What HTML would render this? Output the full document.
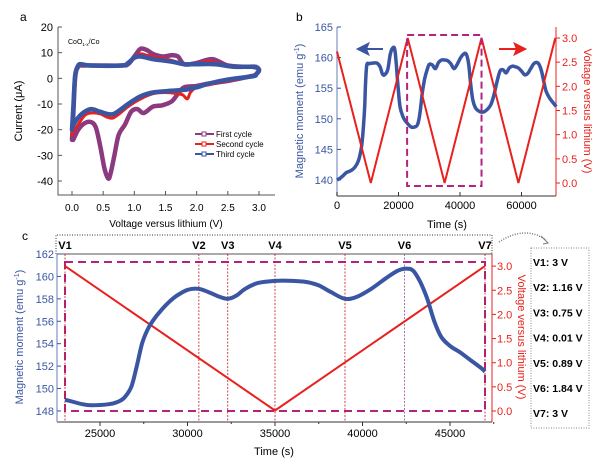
<!DOCTYPE html>
<html><head><meta charset="utf-8"><style>
body{margin:0;background:#fff;}
svg{display:block;font-family:"Liberation Sans",sans-serif;}
</style></head><body>
<svg id="fig" width="600" height="462" viewBox="0 0 600 462"></svg>
<script>
// ---------- Panel a data ----------
const cv1V = [0.0,0.02,0.05,0.1,0.2,0.4,0.8,0.9,1.0,1.1,1.2,1.3,1.45,1.6,1.7,1.8,2.0,2.25,2.5,2.8,2.95,3.0,2.95,2.9,2.5,2.2,2.0,1.8,1.7,1.6,1.45,1.3,1.15,1.05,0.95,0.85,0.75,0.68,0.62,0.58,0.52,0.45,0.38,0.3,0.2,0.1,0.02];
const cv1I = [-24,-15,0,4.5,5,5,5,5.5,8.5,11.5,11,9.5,8.5,9,8.5,5.5,6,7.5,5,4.5,4.5,3,1.5,1,-1,-2,-3,-3.5,-6,-9,-10.5,-11,-13.5,-12,-13,-18,-22,-30,-37,-39,-35,-26,-19,-17,-17.5,-20,-24];
const cv2V = [0.0,0.02,0.05,0.1,0.2,0.4,0.8,0.9,1.0,1.1,1.2,1.4,1.6,1.8,2.0,2.2,2.5,2.8,3.0,2.95,2.9,2.5,2.2,2.0,1.9,1.85,1.78,1.7,1.5,1.3,1.1,0.9,0.75,0.65,0.55,0.45,0.3,0.2,0.1,0.02];
const cv2I = [-22,-14,0,4.5,5,5,5,6,8,9.5,9,8,7,5.5,5.5,6.5,5,4.5,3.5,1.5,0.8,-1,-2.5,-3.5,-5.5,-8,-6.5,-6,-5.5,-6,-8,-11,-14,-15.5,-15,-13.8,-13.5,-14.5,-18,-21];
const cv3V = [0.0,0.02,0.05,0.1,0.15,0.3,0.8,0.9,1.0,1.1,1.3,1.6,1.8,2.0,2.3,2.6,2.9,3.0,2.95,2.9,2.5,2.2,2.0,1.8,1.5,1.3,1.1,0.9,0.7,0.6,0.45,0.3,0.15,0.05,0.01];
const cv3I = [-20,-12,1,5,5.5,5,5,6,8,8.5,7.5,6.5,5.5,5.5,5.5,4.5,4.5,3.5,1.5,0.8,-0.5,-2,-3.5,-4.5,-5,-5.5,-7,-10,-13.5,-14,-13,-12,-14,-17,-19];
const aXTicks = [0.0,0.5,1.0,1.5,2.0,2.5,3.0];
const aYTicks = [20,10,0,-10,-20,-30,-40];
// ---------- Panel b data ----------
const bTime = [0,1000,2000,3000,4000,5000,6000,7000,7500,8000,8500,9000,9300,9700,10500,11500,13000,14000,14800,15500,16500,17300,18000,18700,19200,19800,20500,21500,22500,24000,25500,26300,27000,27800,28500,29300,30000,31000,32000,33000,34000,35000,36000,37000,38000,39000,40000,41000,42000,42800,43500,44200,45000,46000,47000,48000,49000,50000,51000,52000,53000,54000,55000,56000,57000,58000,59000,60000,61000,62000,63000,64000,65000,65800,66500,67300,68000,69000,70000,71300];
const bMoment = [140,140.3,140.7,141.2,141.4,141.7,142.2,143.2,144.2,145.5,148,152,156,158.8,159,159.1,159.1,158.5,157.3,157.2,158,160.5,161.5,161.5,159.5,155.5,152,150.3,149.5,148.7,148.7,149.2,151,154.5,156.5,158,158.9,158.8,158.2,159.2,159.6,159.6,159.5,159,158.2,158.8,159.8,160.5,160.6,159,155.5,153,151.8,151.3,151.1,151.2,151.6,152.3,153.8,156,157.8,158,157.5,158.3,158.6,158.5,158.3,157.8,157.2,157.4,158.2,159,159.2,158.8,157.8,156,154.5,153.5,152.8,152];
const bVTime = [0,11000,23000,35000,47000,59000,71000];
const bVolt = [2.72,0,3.0,0,3.0,0,3.0];
const bXTicks = [0,20000,40000,60000];
const bYTicks = [140,145,150,155,160,165];
const bVTicks = [0.0,0.5,1.0,1.5,2.0,2.5,3.0];
// ---------- Panel c data ----------
const cTime = [23000,23500,24000,24500,25500,26000,26400,26800,27100,27400,27700,28000,28500,29000,29500,30000,30600,31200,31800,32300,32800,33300,34000,35000,36000,36800,37500,38200,39000,39700,40500,41300,42000,42500,42900,43300,43700,44100,44500,45000,45600,46200,46800,47000];
const cMoment = [149,148.8,148.6,148.5,148.6,148.8,149.2,150.2,152,154,155.2,156,157,157.8,158.4,158.8,158.9,158.6,158.2,158,158.3,158.9,159.4,159.6,159.6,159.5,159.2,158.6,158,158.2,158.9,159.8,160.5,160.7,160.5,159.5,158,156,154.6,153.8,153.2,152.5,151.8,151.5];
const cVTime = [23000,35000,47000];
const cVolt = [3.0,0.01,3.0];
const cMarkTime = [23000,30650,32300,35000,39000,42400,47000];
const cMarkLabels = ["V1","V2","V3","V4","V5","V6","V7"];
const cMarkValues = ["3 V","1.16 V","0.75 V","0.01 V","0.89 V","1.84 V","3 V"];
const cXTicks = [25000,30000,35000,40000,45000];
const cYTicks = [148,150,152,154,156,158,160,162];
const cVTicks = [0.0,0.5,1.0,1.5,2.0,2.5,3.0];

const svg = document.getElementById('fig');
const NS = 'http://www.w3.org/2000/svg';
function mk(tag, attrs, parent){
  const e = document.createElementNS(NS, tag);
  for (const k in attrs) e.setAttribute(k, attrs[k]);
  (parent||svg).appendChild(e);
  return e;
}
function txt(s, x, y, opt, parent){
  const t = mk('text', Object.assign({x:x, y:y, 'font-size':11, fill:'#000'}, opt||{}), parent);
  t.textContent = s;
  return t;
}
function poly(xs, ys, fx, fy){
  return xs.map((v,i)=>fx(v).toFixed(1)+','+fy(ys[i]).toFixed(1)).join(' ');
}
function smooth(xs, ys, fx, fy){
  const P = xs.map((v,i)=>[fx(v), fy(ys[i])]);
  let d = 'M'+P[0][0].toFixed(1)+','+P[0][1].toFixed(1);
  for (let i=0;i<P.length-1;i++){
    const p0 = P[i-1]||P[i], p1 = P[i], p2 = P[i+1], p3 = P[i+2]||p2;
    const c1 = [p1[0]+(p2[0]-p0[0])/6, p1[1]+(p2[1]-p0[1])/6];
    const c2 = [p2[0]-(p3[0]-p1[0])/6, p2[1]-(p3[1]-p1[1])/6];
    d += ' C'+c1[0].toFixed(1)+','+c1[1].toFixed(1)+' '+c2[0].toFixed(1)+','+c2[1].toFixed(1)+' '+p2[0].toFixed(1)+','+p2[1].toFixed(1);
  }
  return d;
}
const BLUE='#3a56a3', RED='#e8211d', MAG='#b4237f', PURP='#8b3a7f';

// ================= PANEL A =================
const aX = v => 72 + v*62.33;
const aY = i => 27 + (20 - i)*2.567;
const ga = mk('g', {});


let t = txt('a', 20, 21, {'font-size':12}, ga);
 
let axA = mk('path', {d:'M58,27 V195 H275', stroke:'#555', fill:'none', 'stroke-width':1}, ga);
 
aYTicks.forEach(v=>{
  mk('line',{x1:58,x2:62,y1:aY(v),y2:aY(v),stroke:'#555'},ga);
  const l = txt(String(v), 53, aY(v)+4, {'text-anchor':'end','font-size':11}, ga);
   
});
aXTicks.forEach(v=>{
  mk('line',{x1:aX(v),x2:aX(v),y1:195,y2:191,stroke:'#555'},ga);
  const l = txt(v.toFixed(1), aX(v), 211, {'text-anchor':'middle','font-size':10}, ga);
   
});
t = txt('Voltage versus lithium (V)', 166, 227, {'text-anchor':'middle','font-size':10}, ga);
 
t = txt('Current (μA)', 0, 0, {'text-anchor':'middle','font-size':11, transform:'translate(22,111) rotate(-90)'}, ga);
 
t = mk('text', {x:68, y:44, 'font-size':7}, ga);
t.innerHTML = 'CoO<tspan font-size="4.5" dy="2">1-x</tspan><tspan dy="-2">/Co</tspan>';
 
[[cv1V,cv1I,PURP,'first-cycle-curve'],[cv2V,cv2I,RED,'second-cycle-curve'],[cv3V,cv3I,BLUE,'third-cycle-curve']].forEach(s=>{
  const p = mk('path',{d:smooth(s[0],s[1],aX,aY),fill:'none',stroke:s[2],'stroke-width':s[2]===RED?3:4.5,'stroke-linejoin':'round','stroke-linecap':'round'},ga);
   
});
[['First cycle',PURP,134],['Second cycle',RED,144],['Third cycle',BLUE,154]].forEach(s=>{
  const g = mk('g',{},ga);
   
  mk('line',{x1:195,x2:214,y1:s[2],y2:s[2],stroke:s[1],'stroke-width':2},g);
  mk('rect',{x:202,y:s[2]-2,width:4,height:4,fill:'#fff',stroke:s[1],'stroke-width':1},g);
  txt(s[0], 216, s[2]+3, {'font-size':8}, g);
});

// ================= PANEL B =================
const bX = s => 337 + s*0.003075;
const bY = m => 27 + (165 - m)*6.12;
const bV = v => 183 - v*48.33;
const gb = mk('g', {});


t = txt('b', 296, 21, {'font-size':12}, gb);
 
mk('line',{x1:337,x2:556,y1:196,y2:196,stroke:'#333'},gb);
mk('line',{x1:337,x2:337,y1:27,y2:196,stroke:'#9aa8d4','stroke-width':1.5},gb);
mk('line',{x1:556,x2:556,y1:27,y2:196,stroke:RED},gb);
bYTicks.forEach(v=>{
  mk('line',{x1:337,x2:341,y1:bY(v),y2:bY(v),stroke:BLUE},gb);
  const l = txt(String(v), 333, bY(v)+4, {'text-anchor':'end','font-size':11,fill:BLUE}, gb);
   
});
bVTicks.forEach(v=>{
  mk('line',{x1:556,x2:560,y1:bV(v),y2:bV(v),stroke:RED},gb);
  const l = txt(v.toFixed(1), 562, bV(v)+4, {'font-size':11,fill:RED}, gb);
   
});
bXTicks.forEach(v=>{
  mk('line',{x1:bX(v),x2:bX(v),y1:196,y2:192,stroke:'#333'},gb);
  const l = txt(String(v), bX(v), 209, {'text-anchor':'middle','font-size':11}, gb);
   
});
t = txt('Time (s)', 447, 228, {'text-anchor':'middle','font-size':11}, gb);
 
t = mk('text', {'text-anchor':'middle','font-size':11,fill:BLUE,transform:'translate(303,111) rotate(-90)'}, gb);
t.innerHTML = 'Magnetic moment (emu g<tspan font-size="7" dy="-4">-1</tspan><tspan dy="4">)</tspan>';
 
t = txt('Voltage versus lithium (V)', 0, 0, {'text-anchor':'middle','font-size':11,fill:RED,transform:'translate(584,111) rotate(90)'}, gb);
 
let p = mk('path',{d:smooth(bTime,bMoment,bX,bY),fill:'none',stroke:BLUE,'stroke-width':3.5,'stroke-linejoin':'round'},gb);
 
p = mk('polyline',{points:poly(bVTime,bVolt,bX,bV),fill:'none',stroke:RED,'stroke-width':2},gb);
 
p = mk('rect',{x:bX(22800),y:35,width:bX(47000)-bX(22800),height:151,fill:'none',stroke:MAG,'stroke-width':2,'stroke-dasharray':'7,4'},gb);
 
p = mk('path',{d:'M383,49 H366 M358,49 L368,44 L366,49 L368,54 Z',stroke:BLUE,fill:BLUE,'stroke-width':2},gb);
 
p = mk('path',{d:'M499,49 H516 M525,49 L515,44 L517,49 L515,54 Z',stroke:RED,fill:RED,'stroke-width':2},gb);
 

// ================= PANEL C =================
const cX = s => 100 + (s - 25000)*0.0175;
const cY = m => 254 + (162 - m)*11.21;
const cV = v => 411 - v*48.3;
const gc = mk('g', {});


t = txt('c', 22, 240, {'font-size':12}, gc);
 
p = mk('path',{d:'M56,254 V235 H492 V254',fill:'none',stroke:'#333','stroke-dasharray':'1,1.5'},gc);
 
mk('line',{x1:57,x2:492,y1:254,y2:254,stroke:'#555'},gc);
mk('line',{x1:57,x2:492,y1:422,y2:422,stroke:'#333'},gc);
mk('line',{x1:57,x2:57,y1:254,y2:422,stroke:'#9aa8d4','stroke-width':1.5},gc);
mk('line',{x1:492,x2:492,y1:254,y2:422,stroke:RED},gc);
cYTicks.forEach(v=>{
  mk('line',{x1:57,x2:61,y1:cY(v),y2:cY(v),stroke:BLUE},gc);
  const l = txt(String(v), 54, cY(v)+4, {'text-anchor':'end','font-size':11,fill:BLUE}, gc);
   
});
cVTicks.forEach(v=>{
  mk('line',{x1:492,x2:496,y1:cV(v),y2:cV(v),stroke:RED},gc);
  const l = txt(v.toFixed(1), 497, cV(v)+4, {'font-size':11,fill:RED}, gc);
   
});
cXTicks.forEach(v=>{
  mk('line',{x1:cX(v),x2:cX(v),y1:422,y2:426,stroke:'#333'},gc);
  mk('line',{x1:cX(v+2500),x2:cX(v+2500),y1:422,y2:424,stroke:'#333'},gc);
  const l = txt(String(v), cX(v), 437, {'text-anchor':'middle','font-size':11}, gc);
   
});
t = txt('Time (s)', 274, 455, {'text-anchor':'middle','font-size':11}, gc);
 
t = mk('text', {'text-anchor':'middle','font-size':11,fill:BLUE,transform:'translate(23,337) rotate(-90)'}, gc);
t.innerHTML = 'Magnetic moment (emu g<tspan font-size="7" dy="-4">-1</tspan><tspan dy="4">)</tspan>';
 
t = txt('Voltage versus lithium (V)', 0, 0, {'text-anchor':'middle','font-size':11,fill:RED,transform:'translate(518,337) rotate(90)'}, gc);
 
p = mk('rect',{x:cX(23000),y:262,width:cX(47000)-cX(23000),height:149,fill:'none',stroke:MAG,'stroke-width':2,'stroke-dasharray':'8,5'},gc);
 
cMarkTime.forEach((s,i)=>{
  const l = mk('line',{x1:cX(s),x2:cX(s),y1:254,y2:422,stroke:i===5?'#9a4a9a':'#c4161c','stroke-width':0.8,'stroke-dasharray':'2,1.5'},gc);
   
  const tl = txt(cMarkLabels[i], cX(s), 249, {'text-anchor':'middle','font-size':11,'font-weight':'bold'}, gc);
   
});
p = mk('polyline',{points:poly(cVTime,cVolt,cX,cV),fill:'none',stroke:RED,'stroke-width':2},gc);
 
p = mk('path',{d:smooth(cTime,cMoment,cX,cY),fill:'none',stroke:BLUE,'stroke-width':4,'stroke-linejoin':'round'},gc);
 
p = mk('path',{d:'M499,242 Q525,225 546,240',fill:'none',stroke:'#777','stroke-dasharray':'1,1.5','stroke-width':1.5},gc);
 
mk('path',{d:'M541,236 L548,243 L543,244',fill:'none',stroke:'#777','stroke-width':1},gc);
const vb = mk('g',{},gc);
 
mk('rect',{x:531,y:248,width:58,height:180,fill:'none',stroke:'#888','stroke-dasharray':'1,1.5'},vb);
cMarkValues.forEach((v,i)=>{
  const e = txt(cMarkLabels[i]+':  '+v, 533, 266 + i*25.2, {'font-size':10.5,'font-weight':'bold','xml:space':'preserve'}, vb);
   
});
</script>
</body></html>
